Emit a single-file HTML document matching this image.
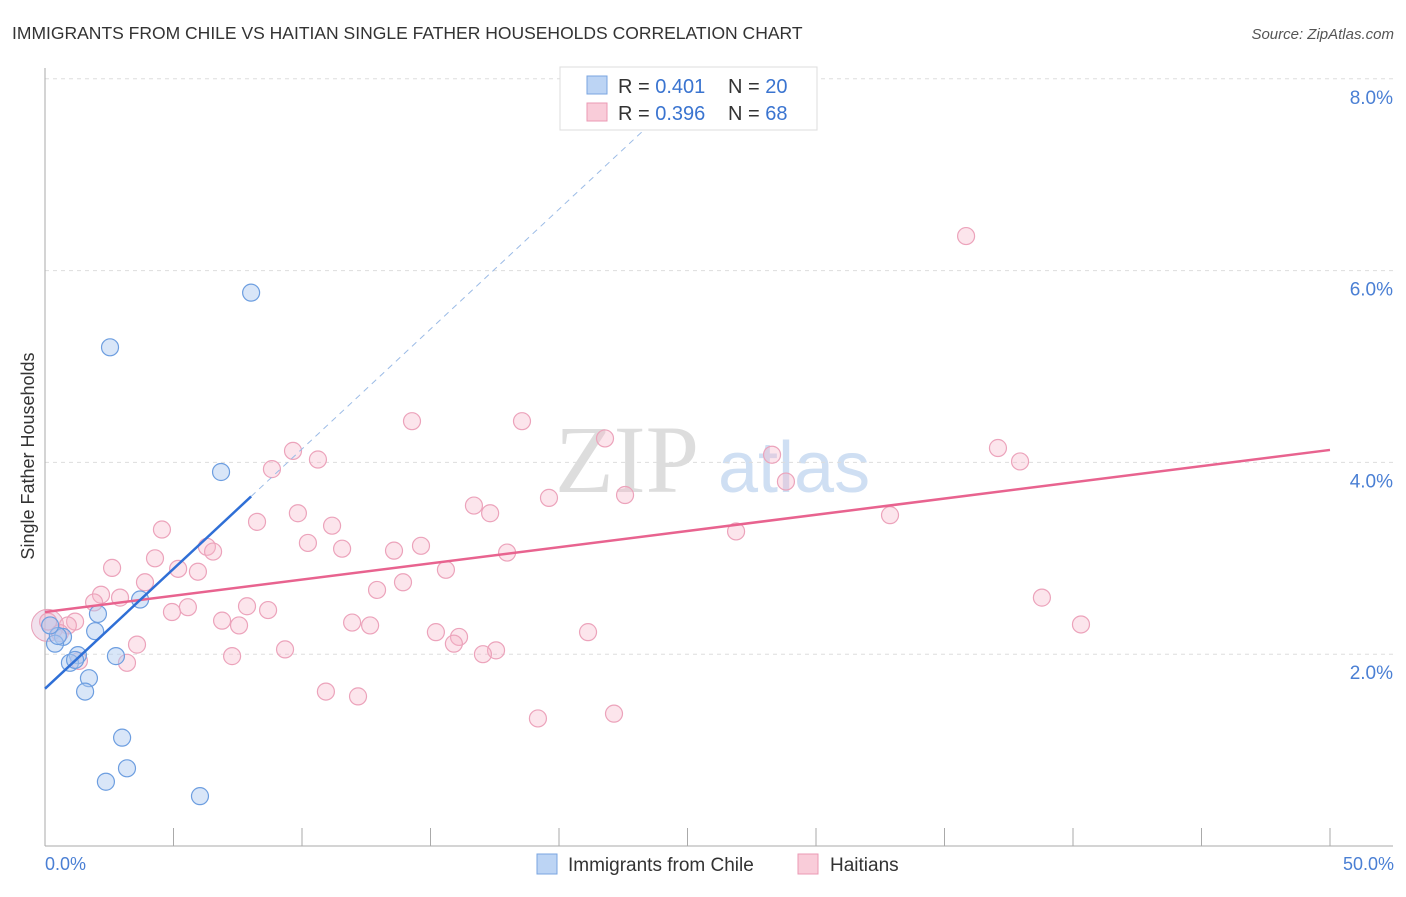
<!DOCTYPE html>
<html><head><meta charset="utf-8"><style>
body{margin:0;background:#fff;font-family:"Liberation Sans",sans-serif}
svg text{font-family:"Liberation Sans",sans-serif}
</style></head><body>
<svg width="1406" height="892" xmlns="http://www.w3.org/2000/svg">
<text x="12" y="39" font-size="17.5" fill="#333">IMMIGRANTS FROM CHILE VS HAITIAN SINGLE FATHER HOUSEHOLDS CORRELATION CHART</text>
<text x="1394" y="39" font-size="15" fill="#555" font-style="italic" text-anchor="end">Source: ZipAtlas.com</text>
<text x="555" y="492" font-size="96" fill="#ddd" style="font-family:'Liberation Serif',serif">ZIP</text>
<text x="718" y="492" font-size="72" fill="#cfdff3">atlas</text>
<g id="grid"></g>
<g id="axes"></g>
<g id="marks"></g>
<text x="34" y="456" font-size="18" fill="#333" text-anchor="middle" transform="rotate(-90 34 456)">Single Father Households</text>
<text x="45" y="870" font-size="18" fill="#4a7fd4">0.0%</text>
<text x="1394" y="870" font-size="18" fill="#4a7fd4" text-anchor="end">50.0%</text>
<g>
<rect x="560" y="67" width="257" height="63" fill="#fff" stroke="#ddd"/>
<rect x="587" y="76" width="20" height="18" fill="#bcd4f4" stroke="#7aa5e0"/>
<text x="618" y="93" font-size="20" fill="#333">R = <tspan fill="#3a74d0">0.401</tspan></text>
<text x="728" y="93" font-size="20" fill="#333">N = <tspan fill="#3a74d0">20</tspan></text>
<rect x="587" y="103" width="20" height="18" fill="#f9ccd9" stroke="#eb9ab4"/>
<text x="618" y="120" font-size="20" fill="#333">R = <tspan fill="#3a74d0">0.396</tspan></text>
<text x="728" y="120" font-size="20" fill="#333">N = <tspan fill="#3a74d0">68</tspan></text>
</g>
<g>
<rect x="537" y="854" width="20" height="20" fill="#bcd4f4" stroke="#7aa5e0"/>
<text x="568" y="871" font-size="19" fill="#333">Immigrants from Chile</text>
<rect x="798" y="854" width="20" height="20" fill="#f9ccd9" stroke="#eb9ab4"/>
<text x="830" y="871" font-size="19" fill="#333">Haitians</text>
</g>
</svg>
<script>
const yTicks=[2,4,6,8];
const yTickLabels=["2.0%","4.0%","6.0%","8.0%"];
const chileX=[8.02,2.53,6.85,3.70,2.06,1.95,0.70,0.39,0.5,1.28,0.97,2.76,1.71,1.56,3.0,3.19,2.37,6.03,0.2,1.17];
const chileY=[5.77,5.20,3.90,2.57,2.42,2.24,2.18,2.11,2.19,1.99,1.91,1.98,1.75,1.61,1.13,0.81,0.67,0.52,2.30,1.94];
const haitiPx=[[966,236],[412,421],[522,421],[605,438],[293,451],[998,448],[318,460],[1020,461],[272,469],[772,455],[786,482],[625,495],[549,498],[474,506],[298,513],[490,513],[890,515],[257,522],[162,530],[332,526],[736,531],[308,543],[421,546],[342,549],[394,551],[207,547],[213,552],[507,553],[155,558],[112,568],[178,569],[198,572],[446,570],[145,582],[403,582],[377,590],[101,595],[120,598],[94,602],[247,606],[188,607],[172,612],[268,610],[222,621],[239,625],[352,623],[370,625],[75,622],[68,625],[436,632],[459,637],[588,632],[454,644],[137,645],[285,649],[496,650],[483,654],[232,656],[79,661],[127,663],[326,692],[358,696],[614,714],[538,718],[1042,598],[1081,624],[60,633],[48,622]];
const haitiX=haitiPx.map(p=>+((p[0]-45)/25.7).toFixed(2));
const haitiY=haitiPx.map(p=>+((846-p[1])/95.9).toFixed(2));
const chileFit=[1.64,0.25];
const haitiFit=[2.44,0.0338];
const NS="http://www.w3.org/2000/svg";
const sx=v=>45+v*25.7, sy=v=>846-v*95.9;
function mk(tag,attrs,parent){const e=document.createElementNS(NS,tag);for(const k in attrs)e.setAttribute(k,attrs[k]);document.getElementById(parent).appendChild(e);return e;}
yTicks.forEach((t,i)=>{
 const l=mk('line',{x1:45,x2:1393,y1:sy(t),y2:sy(t),stroke:'#ddd','stroke-dasharray':'4 4'},'grid');
 
 
 const tx=mk('text',{x:1393,y:sy(t)+25,'font-size':19,fill:'#4a7fd4','text-anchor':'end'},'grid');
 tx.textContent=yTickLabels[i];
 
 
});
const ax=mk('line',{x1:45,x2:45,y1:68,y2:846,stroke:'#aaa'},'axes');


const bx=mk('line',{x1:45,x2:1393,y1:846,y2:846,stroke:'#aaa'},'axes');


for(let v=0;v<=50;v+=5){
 const t=mk('line',{x1:sx(v),x2:sx(v),y1:828,y2:846,stroke:'#aaa'},'axes');
 
 
}
const big=mk('circle',{cx:sx(0.1),cy:sy(2.3),r:16,fill:'rgba(220,180,210,0.4)',stroke:'#e8a0b8'},'marks');


haitiX.forEach((x,i)=>{
 const c=mk('circle',{cx:sx(x),cy:sy(haitiY[i]),r:8.5,fill:'rgba(246,180,200,0.35)',stroke:'#eca3bb','stroke-width':1.2},'marks');
 
 
});
chileX.forEach((x,i)=>{
 const c=mk('circle',{cx:sx(x),cy:sy(chileY[i]),r:8.5,fill:'rgba(170,200,240,0.45)',stroke:'#6d9ee0','stroke-width':1.2},'marks');
 
 
});
const pl=mk('line',{x1:sx(0),y1:sy(haitiFit[0]),x2:sx(50),y2:sy(haitiFit[0]+50*haitiFit[1]),stroke:'#e8638f','stroke-width':2.5},'marks');


const bl=mk('line',{x1:sx(0),y1:sy(chileFit[0]),x2:sx(8.02),y2:sy(chileFit[0]+8.02*chileFit[1]),stroke:'#2f6fd6','stroke-width':2.5},'marks');


const bd=mk('line',{x1:sx(8.02),y1:sy(chileFit[0]+8.02*chileFit[1]),x2:sx(23.7),y2:sy(chileFit[0]+23.7*chileFit[1]),stroke:'#9bbbe6','stroke-width':1,'stroke-dasharray':'6 5'},'marks');


</script>
</body></html>
